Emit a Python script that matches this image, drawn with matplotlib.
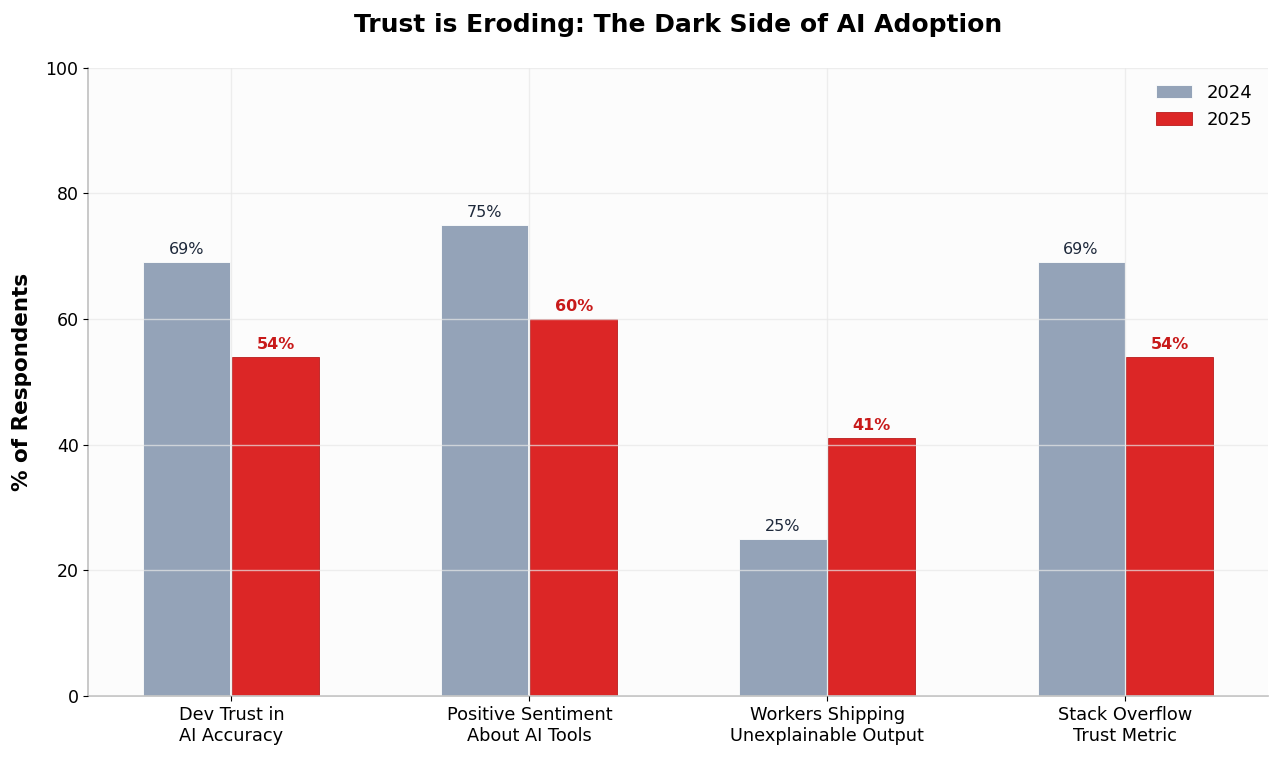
import matplotlib
matplotlib.use("Agg")
from matplotlib import pyplot as plt
import numpy as np

categories = ["Dev Trust in\nAI Accuracy", "Positive Sentiment\nAbout AI Tools",
              "Workers Shipping\nUnexplainable Output", "Stack Overflow\nTrust Metric"]
vals_2024 = [69, 75, 25, 69]
vals_2025 = [54, 60, 41, 54]

c24 = "#94a3b8"
c25 = "#dc2626"

fig, ax = plt.subplots(figsize=(12.8, 7.6), dpi=100)
fig.subplots_adjust(left=0.069, right=0.991, top=0.911, bottom=0.084)
ax.set_facecolor("#fcfcfc")

x = np.arange(len(categories))
w = 0.292
b1 = ax.bar(x - 0.149, vals_2024, w, color=c24, edgecolor="white", linewidth=0.6, label="2024")
b2 = ax.bar(x + 0.149, vals_2025, w, color=c25, edgecolor="#b91c1c", linewidth=0.6, label="2025")

for r, v in zip(b1, vals_2024):
    ax.text(r.get_x() + r.get_width() / 2, v + 0.8, f"{v}%", ha="center", va="bottom",
            fontsize=11.5, color="#1e293b")
for r, v in zip(b2, vals_2025):
    ax.text(r.get_x() + r.get_width() / 2, v + 0.8, f"{v}%", ha="center", va="bottom",
            fontsize=11.5, color="#c81a1a", fontweight="bold")

ax.set_ylim(0, 100)
ax.set_xlim(-0.48, 3.48)
ax.set_xticks(x)
ax.set_xticklabels(categories, fontsize=12.8)
ax.tick_params(axis="y", labelsize=12.5)
ax.set_ylabel("% of Respondents", fontsize=15.5, fontweight="bold", labelpad=10)
ax.set_title("Trust is Eroding: The Dark Side of AI Adoption", fontsize=18,
             fontweight="bold", pad=26)

ax.set_axisbelow(False)
ax.grid(True, color="#e8e8e8", linewidth=1, alpha=0.7)
for s in ["top", "right"]:
    ax.spines[s].set_visible(False)
for s in ["left", "bottom"]:
    ax.spines[s].set_color("#c0c0c0")
    ax.spines[s].set_linewidth(1.2)

ax.legend(loc="upper right", frameon=False, fontsize=13, handlelength=2.0)

fig.savefig("out.png", dpi=100)
